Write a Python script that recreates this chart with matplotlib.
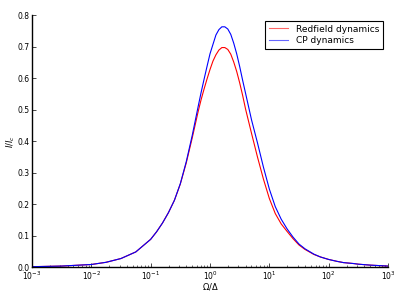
import numpy as np
import matplotlib
matplotlib.use("Agg")
import matplotlib.pyplot as plt

# log10(Omega/Delta) positions and I/I_c values
blue_logx = [-3.0, -2.5, -2.0, -1.75, -1.5, -1.25, -1.0, -0.9, -0.8, -0.7,
             -0.6, -0.5, -0.4, -0.3, -0.2, -0.15, -0.1, -0.05, 0.0, 0.05,
             0.1, 0.15, 0.2, 0.25, 0.3, 0.35, 0.4, 0.45, 0.5, 0.55,
             0.6, 0.7, 0.8, 0.9, 1.0, 1.1, 1.2, 1.3, 1.4, 1.5,
             1.6, 1.75, 1.86, 2.0, 2.14, 2.25, 2.42, 2.5, 2.7, 3.0]
blue_val = [0.001, 0.003, 0.008, 0.015, 0.027, 0.048, 0.088, 0.112, 0.140, 0.173,
            0.212, 0.265, 0.335, 0.418, 0.510, 0.555, 0.597, 0.638, 0.678, 0.708,
            0.738, 0.755, 0.764, 0.764, 0.757, 0.740, 0.712, 0.678, 0.638, 0.594,
            0.552, 0.468, 0.395, 0.318, 0.248, 0.192, 0.152, 0.121, 0.095, 0.073,
            0.058, 0.041, 0.032, 0.024, 0.018, 0.014, 0.011, 0.009, 0.006, 0.003]

red_logx = [-3.0, -2.5, -2.0, -1.75, -1.5, -1.25, -1.0, -0.9, -0.8, -0.7,
            -0.6, -0.5, -0.4, -0.3, -0.2, -0.15, -0.1, -0.05, 0.0, 0.05,
            0.1, 0.15, 0.2, 0.25, 0.3, 0.35, 0.4, 0.45, 0.5, 0.55,
            0.6, 0.7, 0.8, 0.9, 1.0, 1.1, 1.2, 1.3, 1.4, 1.5,
            1.6, 1.75, 1.86, 2.0, 2.14, 2.25, 2.42, 2.5, 2.7, 3.0]
red_val = [0.001, 0.003, 0.008, 0.015, 0.027, 0.048, 0.088, 0.112, 0.140, 0.173,
           0.212, 0.264, 0.331, 0.410, 0.494, 0.532, 0.566, 0.598, 0.628, 0.655,
           0.675, 0.690, 0.698, 0.698, 0.692, 0.677, 0.652, 0.622, 0.586, 0.546,
           0.502, 0.425, 0.350, 0.280, 0.218, 0.170, 0.137, 0.113, 0.090, 0.070,
           0.056, 0.040, 0.032, 0.024, 0.018, 0.014, 0.011, 0.009, 0.006, 0.003]

labels = ["Redfield dynamics", "CP dynamics"]

fig = plt.figure(figsize=(4.15, 2.98), dpi=100)
ax = fig.add_axes([0.077, 0.104, 0.858, 0.844])

ax.plot(10 ** np.array(red_logx), red_val, color="r", lw=0.8, label=labels[0])
ax.plot(10 ** np.array(blue_logx), blue_val, color="b", lw=0.8, label=labels[1])

ax.set_xscale("log")
ax.set_xlim(1e-3, 1e3)
ax.set_ylim(0, 0.8)
yt = np.arange(0, 0.81, 0.1)
ax.set_yticks(yt)
ax.set_yticklabels([f"{v:.1f}" for v in yt])

for side in ("top", "right"):
    ax.spines[side].set_visible(False)
for side in ("left", "bottom"):
    ax.spines[side].set_linewidth(1.0)
ax.tick_params(which="both", direction="in", top=False, right=False,
               labelsize=5.5, pad=2)
ax.tick_params(which="major", length=3, width=0.5)
ax.tick_params(which="minor", length=1.5, width=0.4)

ax.set_xlabel(r"$\Omega/\Delta$", fontsize=6)
ax.set_ylabel(r"$I/I_c$", fontsize=6)
ax.xaxis.set_label_coords(0.5, -0.055)
ax.yaxis.set_label_coords(-0.043, 0.5)

leg = ax.legend(loc="upper right", fontsize=6.5, fancybox=False,
                edgecolor="black", framealpha=1, handlelength=2.2,
                borderaxespad=0.6, borderpad=0.4, labelspacing=0.3)
leg.get_frame().set_linewidth(0.8)
for h in leg.get_lines():
    h.set_alpha(0.6)

fig.savefig("out.png", dpi=100)
